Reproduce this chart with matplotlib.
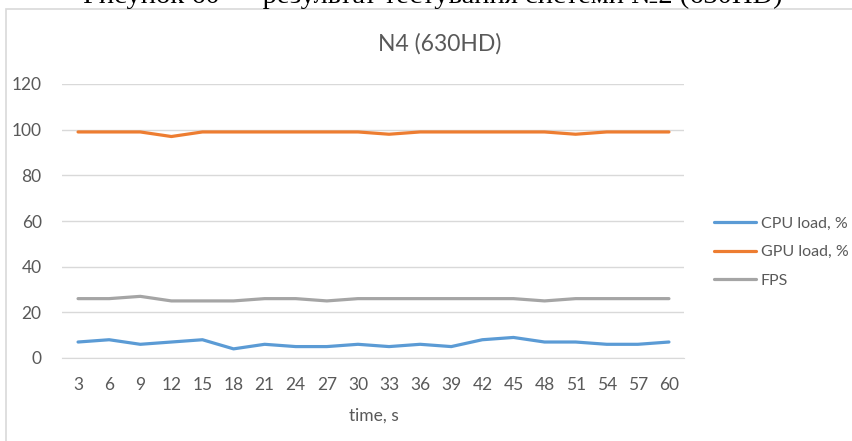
import matplotlib
matplotlib.use("Agg")
import matplotlib.pyplot as plt
from matplotlib.patches import Rectangle

times = [3, 6, 9, 12, 15, 18, 21, 24, 27, 30, 33, 36, 39, 42, 45, 48, 51, 54, 57, 60]
cpu = [7, 8, 6, 7, 8, 4, 6, 5, 5, 6, 5, 6, 5, 8, 9, 7, 7, 6, 6, 7]
gpu = [99, 99, 99, 97, 99, 99, 99, 99, 99, 99, 98, 99, 99, 99, 99, 99, 98, 99, 99, 99]
fps = [26, 26, 27, 25, 25, 25, 26, 26, 25, 26, 26, 26, 26, 26, 26, 25, 26, 26, 26, 26]
series_names = ["CPU load, %", "GPU load, %", "FPS"]
yticks = [0, 20, 40, 60, 80, 100, 120]
title = "N4 (630HD)"
xlabel = "time, s"
caption = "Рисунок 60 — результат тестування системи №2 (630HD)"

FONT = "Lato"
W, H = 853, 441
fig = plt.figure(figsize=(W / 100, H / 100), dpi=100)
fig.patch.set_facecolor("white")

# chart frame
fig.add_artist(Rectangle((6 / W, -0.01), (W + 10) / W, (H - 9) / H + 0.01,
                         transform=fig.transFigure, fill=False,
                         edgecolor="#d9d9d9", linewidth=1.2))

# caption of the page, clipped at the top edge as in the reference
fig.text(433 / W, 1 - 3 / H, caption, ha="center", va="baseline",
         fontsize=20.5, family="Liberation Serif", color="black")

left, right = 62.5, 684.5
ax = fig.add_axes([left / W, (H - 358) / H, (right - left) / W, 274 / H])
x = list(range(len(times)))
colors = ["#5B9BD5", "#ED7D31", "#A5A5A5"]
for vals, name, c in zip([cpu, gpu, fps], series_names, colors):
    ax.plot(x, vals, color=c, linewidth=2.3, label=name, solid_capstyle="round",
            solid_joinstyle="round")

ax.set_xlim(-0.5, len(times) - 0.5)
ax.set_ylim(0, 120)
ax.set_yticks(yticks)
ax.set_xticks(x)
ax.set_xticklabels([str(t) for t in times])
ax.grid(axis="y", color="#d9d9d9", linewidth=1)
ax.set_axisbelow(True)
for s in ["top", "right", "left"]:
    ax.spines[s].set_visible(False)
ax.spines["bottom"].set_color("#d9d9d9")
ax.tick_params(axis="both", length=0, colors="#595959", labelsize=12.5)
ax.tick_params(axis="x", pad=14)
ax.tick_params(axis="y", pad=15)
for lab in ax.get_xticklabels() + ax.get_yticklabels():
    lab.set_family(FONT)
ax.set_xlabel(xlabel, fontsize=12.5, color="#595959", family=FONT, labelpad=10)

fig.text(440 / W, 1 - 44 / H, title, ha="center", va="center", fontsize=16.5,
         color="#595959", family=FONT)

leg = ax.legend(loc="center left", bbox_to_anchor=(700 / W, 1 - 252 / H),
                bbox_transform=fig.transFigure, frameon=False,
                prop={"family": FONT, "size": 11.5}, labelcolor="#595959",
                handlelength=2.6, handletextpad=0.3, labelspacing=0.9)

fig.savefig("out.png", dpi=100, facecolor="white")
